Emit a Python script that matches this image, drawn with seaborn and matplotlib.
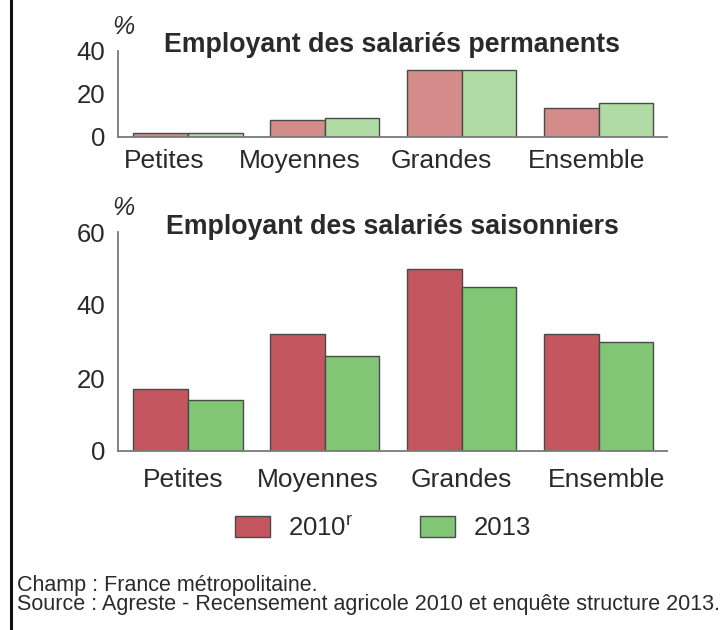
import matplotlib
matplotlib.use("Agg")
import matplotlib.pyplot as plt
import matplotlib.transforms as mtransforms
import seaborn as sns
import pandas as pd
from matplotlib.lines import Line2D
from matplotlib.patches import Patch

# data
categories = ["Petites", "Moyennes", "Grandes", "Ensemble"]
years = ["2010", "2013"]
permanents_2010 = [2, 8, 31, 13.5]
permanents_2013 = [2, 9, 31, 15.5]
saisonniers_2010 = [17, 32, 50, 32]
saisonniers_2013 = [14, 26, 45, 30]
legend_labels = ["2010$^\\mathregular{r}$", "2013"]

sns.set_style("white")
plt.rcParams["font.family"] = ["Liberation Sans", "DejaVu Sans"]

def long_df(v2010, v2013):
    return pd.DataFrame({
        "taille": categories * 2,
        "annee": [years[0]] * 4 + [years[1]] * 4,
        "pct": v2010 + v2013,
    })

W, H = 725, 630
fig = plt.figure(figsize=(W / 100, H / 100), dpi=100)

def px_axes(left, right, top, bottom):
    return fig.add_axes([left / W, 1 - bottom / H, (right - left) / W, (bottom - top) / H])

ax1 = px_axes(118, 667, 50.5, 137)
ax2 = px_axes(118, 667, 232, 451)

txt = "#2a2a2a"
panels = [
    (ax1, long_df(permanents_2010, permanents_2013), ["#d48c8b", "#b0dba5"],
     40, [0, 20, 40], "Employant des salariés permanents", [-24, -25, -20, -12], 8.5),
    (ax2, long_df(saisonniers_2010, saisonniers_2013), ["#c3565f", "#80c675"],
     60, [0, 20, 40, 60], "Employant des salariés saisonniers", [-5, -7, 0, 8], 12),
]

for ax, df, pal, ymax, yticks, title, shifts, xpad in panels:
    sns.barplot(data=df, x="taille", y="pct", hue="annee", palette=pal, saturation=1,
                edgecolor="#4a4a4a", linewidth=1, width=0.8, legend=False, ax=ax)
    ax.set_xlim(-0.51, 3.5)
    ax.set_ylim(0, ymax)
    ax.set_yticks(yticks)
    ax.set_xlabel("")
    ax.set_ylabel("")
    for s in ["top", "right"]:
        ax.spines[s].set_visible(False)
    for s in ["left", "bottom"]:
        ax.spines[s].set_color("#7a7a7a")
        ax.spines[s].set_linewidth(1.3)
    ax.tick_params(axis="y", direction="in", length=9, width=1.2, color="#7a7a7a",
                   pad=9, labelsize=18.5, labelcolor=txt)
    ax.tick_params(axis="x", length=0, pad=xpad, labelsize=19, labelcolor=txt)
    # category labels in the reference sit a little off the group centres
    for lab, dx in zip(ax.get_xticklabels(), shifts):
        lab.set_transform(lab.get_transform() +
                          mtransforms.ScaledTranslation(dx / 100, 0, fig.dpi_scale_trans))
    ax.annotate(title, xy=(0.5, 1), xycoords="axes fraction", xytext=(0, -2),
                textcoords="offset pixels", ha="center", va="baseline",
                fontsize=19.3, fontweight="bold", color=txt)
    ax.annotate("%", xy=(0, 1), xycoords="axes fraction", xytext=(5, 24),
                textcoords="offset pixels", ha="center", va="center",
                fontsize=18, fontstyle="italic", color=txt)

handles = [Patch(facecolor=c, edgecolor="#4a4a4a", linewidth=1) for c in ["#c3565f", "#80c675"]]
fig.legend(handles, legend_labels, loc="center", bbox_to_anchor=(383 / W, 1 - 528 / H),
           ncol=2, frameon=False, fontsize=18.5, handlelength=1.36, handleheight=0.9,
           handletextpad=0.7, columnspacing=2.6, labelcolor=txt)

fig.text(17 / W, 1 - 591 / H, "Champ : France métropolitaine.", ha="left", va="baseline",
         fontsize=15.5, color=txt)
fig.text(17 / W, 1 - 610 / H,
         "Source : Agreste - Recensement agricole 2010 et enquête structure 2013.",
         ha="left", va="baseline", fontsize=15.5, color=txt)

fig.add_artist(Line2D([11 / W, 11 / W], [0, 1], color="#111111", linewidth=2.2))

fig.savefig("out.png", dpi=100)
